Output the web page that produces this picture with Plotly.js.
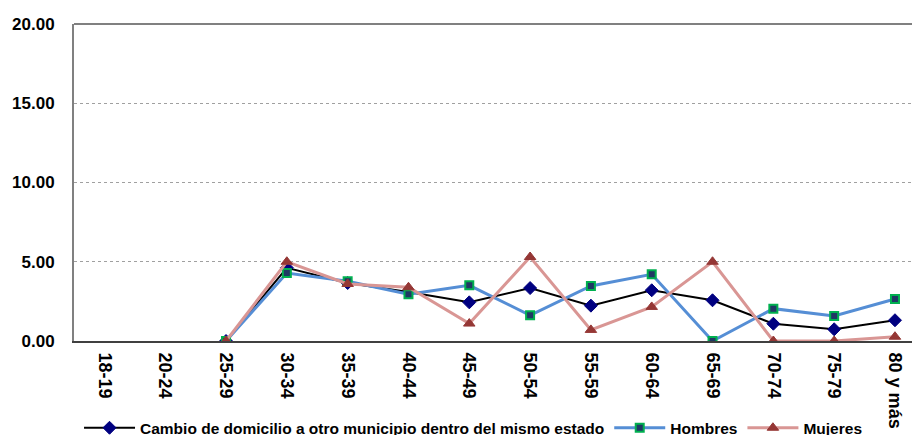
<!DOCTYPE html>
<html>
<head>
<meta charset="utf-8">
<script src="https://cdn.plot.ly/plotly-3.0.1.min.js"></script>
<style>html,body{margin:0;padding:0;background:#fff;}#chart{width:912px;height:435px;}</style>
</head>
<body>
<div id="chart"></div>
<script>
const categories = ["18-19","20-24","25-29","30-34","35-39","40-44","45-49","50-54","55-59","60-64","65-69","70-74","75-79","80 y más"];
const cambio  = [null, null, 0.00, 4.62, 3.66, 3.09, 2.44, 3.34, 2.23, 3.20, 2.57, 1.09, 0.74, 1.31];
const hombres = [null, null, 0.00, 4.29, 3.77, 2.95, 3.51, 1.62, 3.47, 4.21, 0.00, 2.04, 1.58, 2.65];
const mujeres = [null, null, 0.00, 5.00, 3.60, 3.39, 1.10, 5.30, 0.70, 2.15, 5.00, 0.00, 0.00, 0.27];
const seriesNames = ["Cambio de domicilio a otro municipio dentro del mismo estado", "Hombres", "Mujeres"];
const yTicks = [0, 5, 10, 15, 20];

const font = "Arial, 'Liberation Sans', sans-serif";
const traces = [
  {x: categories, y: cambio, name: seriesNames[0], type: 'scatter', mode: 'lines+markers',
   line: {color: '#000000', width: 2},
   marker: {symbol: 'diamond', size: 10, color: '#000080', line: {color: '#000080', width: 1}}},
  {x: categories, y: hombres, name: seriesNames[1], type: 'scatter', mode: 'lines+markers',
   line: {color: '#558ED5', width: 3},
   marker: {symbol: 'square', size: 8, color: '#1F3864', line: {color: '#00B050', width: 2}}},
  {x: categories, y: mujeres, name: seriesNames[2], type: 'scatter', mode: 'lines+markers',
   line: {color: '#D99694', width: 3},
   marker: {symbol: 'triangle-up', size: 10, color: '#953735', line: {color: '#953735', width: 1}}}
];
const layout = {
  width: 912, height: 435,
  margin: {l: 74, r: 0, t: 24, b: 94, autoexpand: false},
  paper_bgcolor: '#ffffff', plot_bgcolor: '#ffffff',
  showlegend: true,
  legend: {orientation: 'h', x: 0.006, xanchor: 'left', y: -0.275, yanchor: 'middle',
           font: {family: font, size: 15.5, color: '#000000', weight: 'bold'},
           itemwidth: 51, tracegroupgap: 0, bgcolor: 'rgba(0,0,0,0)'},
  xaxis: {type: 'category', range: [-0.5, 13.28], tickangle: 90, automargin: false,
          tickfont: {family: font, size: 18, color: '#000000', weight: 'bold'},
          showline: true, linecolor: '#404040', linewidth: 2, showgrid: false,
          ticks: '', ticklabelstandoff: 6, fixedrange: true},
  yaxis: {range: [0, 20], tickvals: yTicks, tickformat: '.2f', automargin: false,
          tickfont: {family: font, size: 17, color: '#000000', weight: 'bold'},
          showline: true, linecolor: '#808080', linewidth: 2,
          showgrid: true, gridcolor: '#A0A0A0', griddash: 'dot', gridwidth: 1,
          zeroline: false, ticks: '', ticklabelstandoff: 14, fixedrange: true},
  shapes: [{type: 'line', xref: 'paper', yref: 'paper', x0: 0, x1: 1, y0: 1, y1: 1,
            line: {color: '#808080', width: 2}}]
};
Plotly.newPlot('chart', traces, layout, {displayModeBar: false, staticPlot: true});
</script>
</body>
</html>
